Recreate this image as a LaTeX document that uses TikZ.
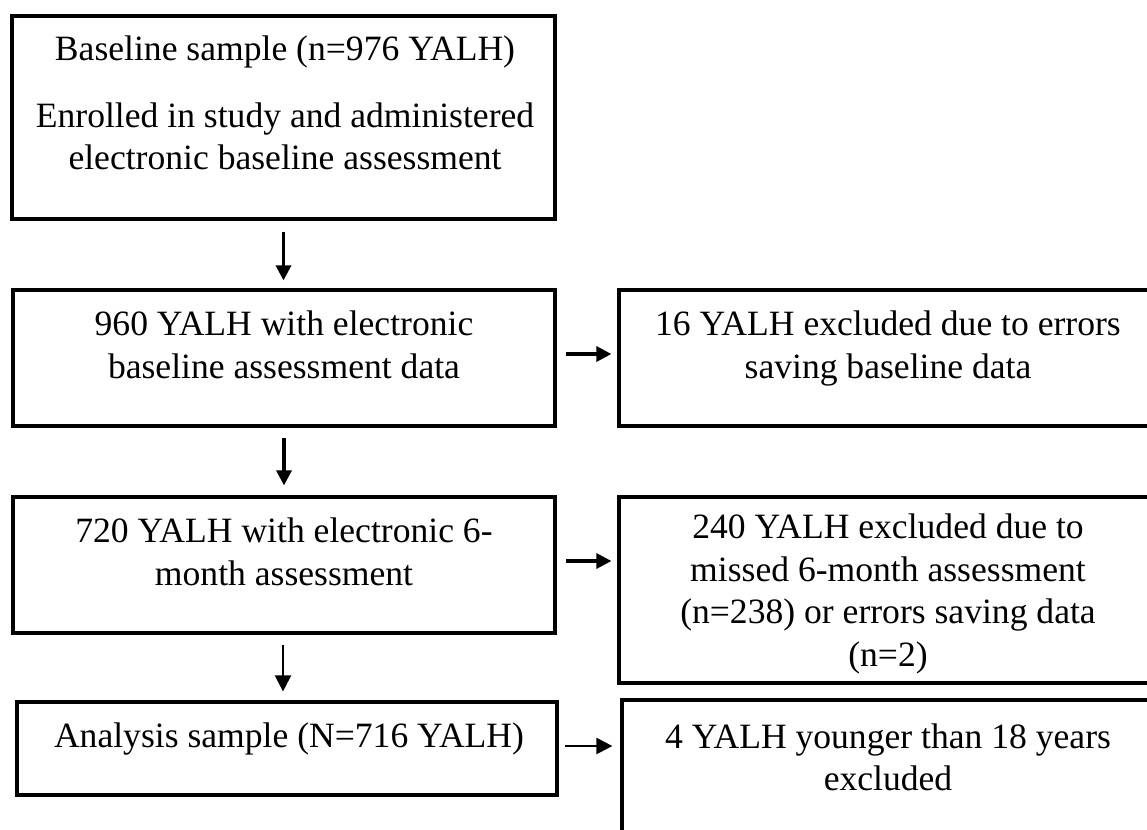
\documentclass[tikz,border=0pt]{standalone}
\usepackage{fontspec}
\setmainfont{Liberation Serif}
\usetikzlibrary{arrows.meta,calc}
\begin{document}
\begin{tikzpicture}[x=1pt,y=-1pt,
  boxst/.style={draw, line width=3.2pt, inner sep=0pt},
  txt/.style={inner sep=0pt, align=center, font=\fontsize{35.6}{42.5}\selectfont},
  arr/.style={line width=3.2pt, -{Triangle[length=15pt,width=15pt]}},
  thinarr/.style={line width=2.2pt, -{Triangle[length=16pt,width=16pt]}}]
\useasboundingbox (0,0) rectangle (1147,829);
\fill[white] (0,0) rectangle (1147,829);
\clip (0,0) rectangle (1147,829);
% left column boxes
\node[boxst, minimum width=543pt, minimum height=203pt] (b1) at (283.5,117.5) {};
\node[boxst, minimum width=542pt, minimum height=136pt] (b2) at (284,358) {};
\node[boxst, minimum width=542pt, minimum height=136pt] (b3) at (284,565) {};
\node[boxst, minimum width=540pt, minimum height=93pt] (b4) at (287,748.5) {};
% right column boxes
\node[boxst, minimum width=538pt, minimum height=136pt] (r2) at (888,358) {};
\node[boxst, minimum width=538pt, minimum height=186pt] (r3) at (888,590) {};
\node[boxst, minimum width=535pt, minimum height=180pt] (r4) at (889.5,790) {};
% texts
\node[txt] (t1a) at (285,52) {\strut Baseline sample (n=976 YALH)};
\node[txt] (t1b) at (285,140) {\strut Enrolled in study and administered\\\strut electronic baseline assessment};
\node[txt] (t2) at (284,348.5) {\strut 960 YALH with electronic\\\strut baseline assessment data};
\node[txt] (t3) at (284,555.5) {\strut 720 YALH with electronic 6-\\\strut month assessment};
\node[txt] (t4) at (289,739) {\strut Analysis sample (N=716 YALH)};
\node[txt] (s2) at (888,348.5) {\strut 16 YALH excluded due to errors\\\strut saving baseline data};
\node[txt] (s3) at (888,594) {\strut 240 YALH excluded due to\\\strut missed 6-month assessment\\\strut (n=238) or errors saving data\\\strut (n=2)};
\node[txt] (s4) at (888,761) {\strut 4 YALH younger than 18 years\\\strut excluded};
% vertical arrows
\coordinate (v1s) at ($(b1.south)+(0,11)$);
\draw[arr] (v1s) -- ($(v1s |- b2.north)+(0,-8)$);
\coordinate (v2s) at ($(b2.south)+(0,10)$);
\draw[arr] (v2s) -- ($(v2s |- b3.north)+(0,-10)$);
\coordinate (v3s) at ($(b3.south)+(-1,10)$);
\draw[thinarr] (v3s) -- ($(v3s |- b4.north)+(0,-9)$);
% horizontal arrows
\coordinate (h2s) at ([xshift=9pt,yshift=4pt]b2.east);
\draw[arr] (h2s) -- ($(h2s -| r2.west)+(-6,0)$);
\coordinate (h3s) at ([xshift=9pt,yshift=4pt]b3.east);
\draw[arr] (h3s) -- ($(h3s -| r3.west)+(-6,0)$);
\coordinate (h4s) at ([xshift=6pt,yshift=2.5pt]b4.east);
\draw[thinarr] (h4s) -- ($(h4s -| r4.west)+(-8,0)$);
\end{tikzpicture}
\end{document}
